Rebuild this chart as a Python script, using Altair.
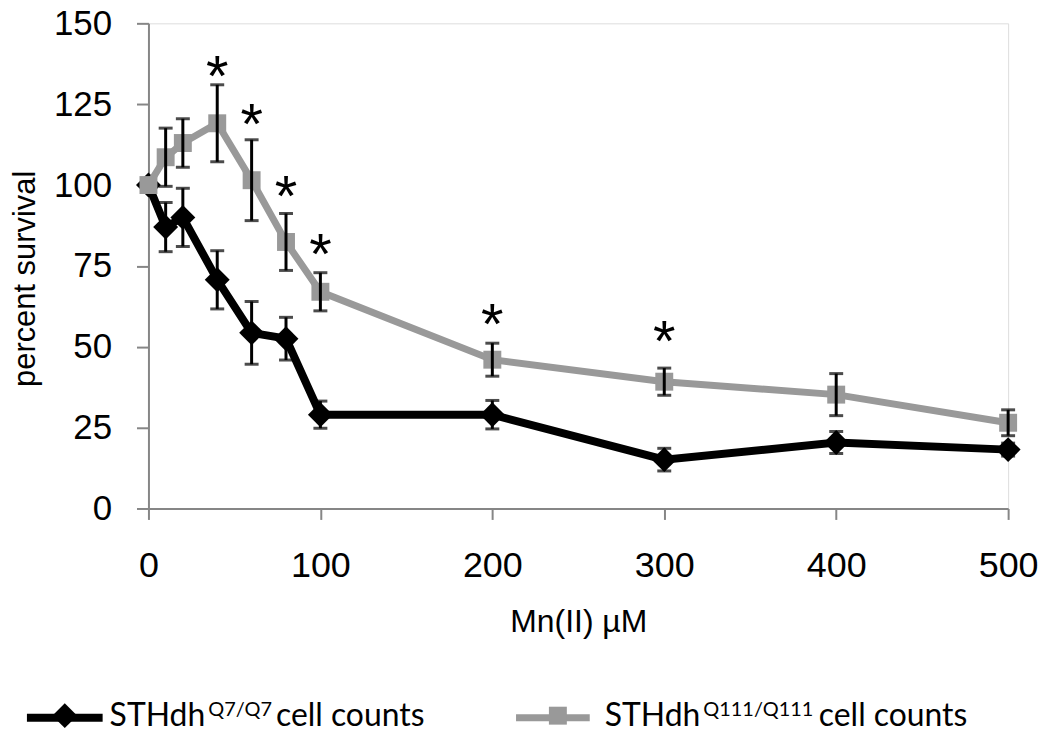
import altair as alt
import pandas as pd

# ---- data ----
conc = [0, 10, 20, 40, 60, 80, 100, 200, 300, 400, 500]
q7_mean = [100, 87, 90, 70.7, 54.3, 52.5, 29, 29, 15.1, 20.4, 18.2]
q7_err = [0, 7.6, 9, 9, 9.7, 6.6, 4.2, 4.4, 3.5, 3.4, 2]
q111_mean = [100, 108.6, 113, 119.1, 101.5, 82.4, 67, 46, 39.2, 35.2, 26.5]
q111_err = [0, 9, 7.5, 11.9, 12.5, 8.8, 5.9, 5.1, 4.2, 6.5, 4]
star_conc = [40, 60, 80, 100, 200, 300]
star_y = [137.7, 122.8, 100.6, 82.7, 61.1, 55.9]
x_ticks = [0, 100, 200, 300, 400, 500]
y_ticks = [0, 25, 50, 75, 100, 125, 150]

BLACK = "#000000"
GRAY = "#999999"
AXIS = "#868686"
FONT = "Liberation Sans"
LFONT = "Lato"

q7 = pd.DataFrame({"conc": conc, "mean": q7_mean, "err": q7_err})
q111 = pd.DataFrame({"conc": conc, "mean": q111_mean, "err": q111_err})
for d in (q7, q111):
    d["lo"] = d["mean"] - d["err"]
    d["hi"] = d["mean"] + d["err"]
errs = pd.concat([q7, q111])
errs = errs[errs["err"] > 0]
stars = pd.DataFrame({"conc": star_conc, "y": star_y})

xs = alt.Scale(domain=[0, 500], nice=False)
ys = alt.Scale(domain=[0, 150], nice=False)

xenc = alt.X("conc:Q", scale=xs, axis=alt.Axis(
    values=x_ticks, title="Mn(II) µM", grid=False, domainColor=AXIS, domainWidth=2,
    tickColor=AXIS, tickWidth=2, tickSize=11, labelPadding=29, labelFontSize=36,
    labelFont=FONT, labelColor="black", titleFont=FONT, titleFontSize=32,
    titleFontWeight="normal", titleColor="black", titleBaseline="middle",
    titleY=114, labelFlush=False))
yenc = alt.Y("mean:Q", scale=ys, axis=alt.Axis(
    values=y_ticks, title="percent survival", grid=False, domainColor=AXIS, domainWidth=2,
    tickColor=AXIS, tickWidth=2, tickSize=12, labelPadding=25, labelFontSize=35,
    labelFont=FONT, labelColor="black", titleFont=FONT, titleFontSize=31,
    titleFontWeight="normal", titleColor="black", titleBaseline="middle",
    titleX=-123, titleY=256, labelFlush=False))

def series(df, color, shape, size, width):
    base = alt.Chart(df)
    line = base.mark_line(color=color, strokeWidth=width).encode(x=xenc, y=yenc)
    pts = base.mark_point(shape=shape, filled=True, size=size, color=color, opacity=1).encode(
        x="conc:Q", y="mean:Q")
    return line + pts

black = series(q7, BLACK, "diamond", 625, 8)
gray = series(q111, GRAY, "square", 324, 7)

eb = alt.Chart(errs)
rule = eb.mark_rule(color=BLACK, strokeWidth=3).encode(x="conc:Q", y="lo:Q", y2="hi:Q")
cap_lo = eb.mark_tick(color=BLACK, thickness=3, size=14, orient="horizontal").encode(x="conc:Q", y="lo:Q")
cap_hi = eb.mark_tick(color=BLACK, thickness=3, size=14, orient="horizontal").encode(x="conc:Q", y="hi:Q")

star = alt.Chart(stars).mark_text(text="*", fontSize=58, font=FONT, color=BLACK,
                                  baseline="alphabetic", dy=33).encode(x="conc:Q", y="y:Q")

one = pd.DataFrame({"a": [0]})
def lg_rule(x1, x2, y, color, w):
    return alt.Chart(one).mark_rule(color=color, strokeWidth=w).encode(
        x=alt.value(x1), x2=alt.value(x2), y=alt.value(y))
def lg_pt(x, y, shape, size, color):
    return alt.Chart(one).mark_point(shape=shape, filled=True, size=size, color=color, opacity=1).encode(
        x=alt.value(x), y=alt.value(y))
def lg_txt(x, y, t, fs):
    return alt.Chart(one).mark_text(text=t, fontSize=fs, font=LFONT, color=BLACK, align="left",
                                    baseline="alphabetic").encode(x=alt.value(x), y=alt.value(y))

legend = (
    lg_rule(-122, -46, 697, BLACK, 8) + lg_pt(-84, 695, "diamond", 625, BLACK)
    + lg_txt(-39, 705, "STHdh", 32) + lg_txt(60, 695, "Q7/Q7", 20) + lg_txt(128, 705, "cell counts", 32)
    + lg_rule(369, 443, 697, GRAY, 7) + lg_pt(411, 695, "square", 324, GRAY)
    + lg_txt(458, 705, "STHdh", 32) + lg_txt(557, 695, "Q111/Q111", 20) + lg_txt(673, 705, "cell counts", 32)
)

chart = alt.layer(black, gray, rule, cap_lo, cap_hi, star, legend).properties(
    width=863, height=487,
    padding={"left": 141, "top": 14, "right": 34, "bottom": 225},
    autosize=alt.AutoSizeParams(type="none"),
).configure_view(stroke="#d4d4d4", strokeWidth=2).configure(background="white")

chart.save("out.html", embed_options={"renderer": "svg", "actions": False})
